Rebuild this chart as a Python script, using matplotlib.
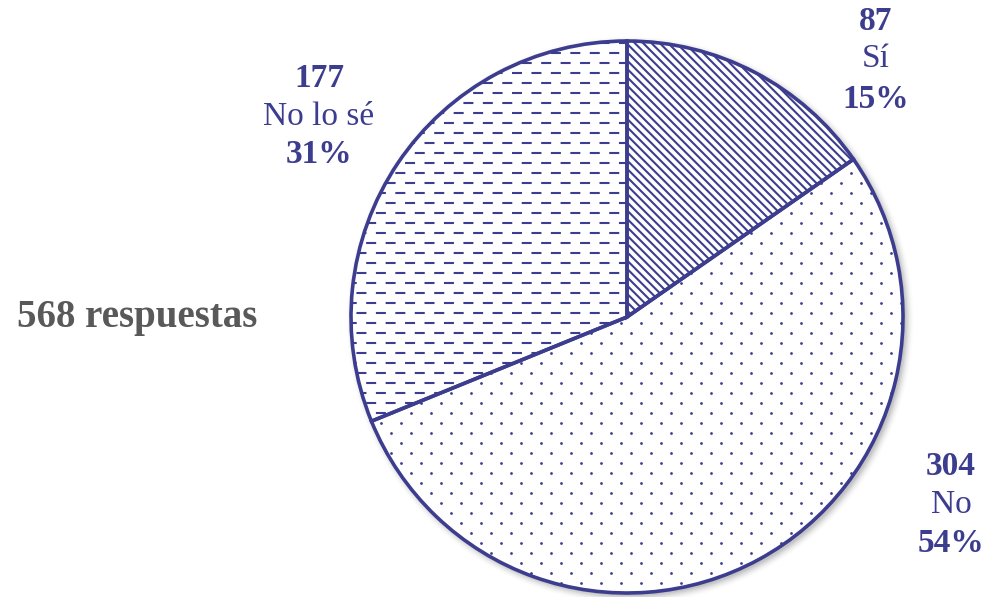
import numpy as np
import matplotlib
matplotlib.use("Agg")
import matplotlib.pyplot as plt
from matplotlib.patches import Circle, Wedge

# datos
categorias = ['Sí', 'No', 'No lo sé']
respuestas = [87, 304, 177]
total = sum(respuestas)
porcentajes = [round(100 * r / total) for r in respuestas]

azul = '#3d3d8f'
gris = '#595959'
plt.rcParams['font.family'] = ['Liberation Serif', 'DejaVu Serif']
plt.rcParams['hatch.color'] = azul
plt.rcParams['hatch.linewidth'] = 1.5

W, H = 990, 597
fig = plt.figure(figsize=(W / 100, H / 100), dpi=100)

# centro y radio del pastel en pixeles
cx, cy, R = 627, 317, 276
ax = fig.add_axes([(cx - R) / W, (H - cy - R) / H, 2 * R / W, 2 * R / H])
px = 1.0 / R

# sombra suave
for k, a in enumerate(np.linspace(0.07, 0.01, 6)):
    ax.add_patch(Circle((3 * px, -3 * px), 1.0 + 1.5 * px * k, color='k', alpha=a,
                        lw=0, zorder=0, clip_on=False))

wedges, _ = ax.pie(respuestas, startangle=90, counterclock=False, radius=1,
                   wedgeprops=dict(facecolor='white', edgecolor='none', linewidth=0))
for w in wedges:
    w.set_zorder(1)

ax.set_xlim(-1, 1)
ax.set_ylim(-1, 1)
ax.set_aspect('equal')
ax.axis('off')

# Sí: rayas diagonales
wedges[0].set_hatch('\\\\\\\\')
wedges[0].set_edgecolor(azul)
wedges[0].set_linewidth(0)

# No: puntos
xs = np.arange(-1, 1, 20 * px)
ys = np.arange(-1, 1, 10 * px)
pts = []
for i, y in enumerate(ys):
    off = 10 * px * (i % 2)
    for x in xs:
        pts.append((x + off, y))
pts = np.array(pts)
sc = ax.scatter(pts[:, 0], pts[:, 1], s=4, color=azul, lw=0, zorder=2)
sc.set_clip_path(wedges[1])

# No lo sé: lineas discontinuas horizontales (renglones alternados)
lw_d = 1.5
on, off_ = 7.2 / lw_d, 6.8 / lw_d
for i, y in enumerate(np.arange(-1, 1, 10 * px)):
    ln, = ax.plot([-1.05, 0.05], [y, y], color=azul, lw=lw_d, solid_capstyle='butt',
                  dash_capstyle='butt', linestyle=((on + off_) / 2 * (i % 2), (on, off_)), zorder=2)
    ln.set_clip_path(wedges[2])

for w in wedges:
    ax.add_patch(Wedge(w.center, w.r, w.theta1, w.theta2, facecolor='none',
                       edgecolor=azul, linewidth=2.6, zorder=3, clip_on=False))


def txt(x, y, s, bold=False, color=azul, size=24):
    fig.text(x / W, 1 - y / H, s, ha='center', va='baseline', color=color,
             fontsize=size, fontweight='bold' if bold else 'normal')


# etiquetas (x, linea base de cada renglon)
pos = {
    'Sí': (876, [30, 67, 108]),
    'No': (951, [475, 513, 552]),
    'No lo sé': (319, [87, 125, 163]),
}
for cat, n, p in zip(categorias, respuestas, porcentajes):
    x, ys_ = pos[cat]
    txt(x, ys_[0], str(n), bold=True)
    txt(x, ys_[1], cat)
    txt(x, ys_[2], f'{p}%', bold=True)

txt(137, 327, f'{total} respuestas', bold=True, color=gris, size=28)

fig.savefig('out.png', dpi=100)
